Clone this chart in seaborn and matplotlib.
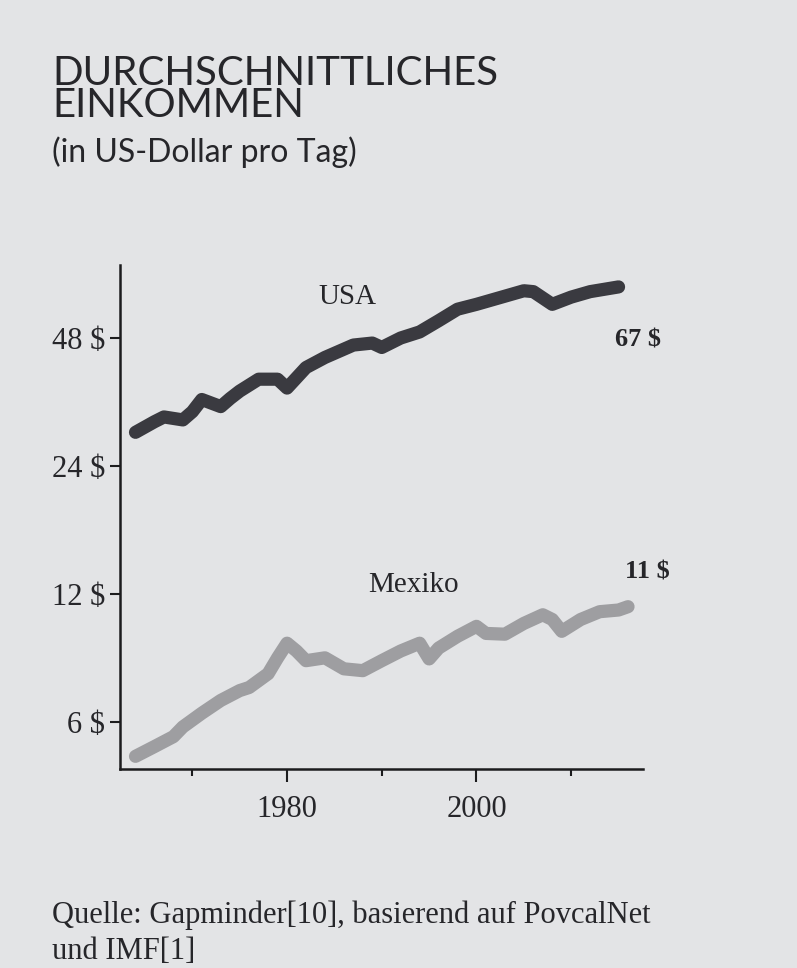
import numpy as np
import pandas as pd
import matplotlib
matplotlib.use("Agg")
import matplotlib.pyplot as plt
import seaborn as sns
from matplotlib.ticker import FixedLocator, NullLocator

# ---- data ----
usa_years = [1964, 1966, 1967, 1969, 1970, 1971, 1973, 1974, 1975, 1977, 1979, 1980,
             1982, 1984, 1987, 1989, 1990, 1992, 1994, 1996, 1998, 2000, 2003, 2005,
             2006, 2008, 2010, 2012, 2015]
usa_income = [28.8, 30.5, 31.3, 30.8, 32.2, 34.4, 33.1, 34.6, 36.0, 38.4, 38.4, 36.6,
              40.9, 43.2, 46.2, 46.7, 45.6, 48.0, 49.6, 52.7, 56.1, 57.6, 60.2, 62.0,
              61.7, 57.6, 59.9, 61.7, 63.3]

mex_years = [1964, 1966, 1968, 1969, 1971, 1973, 1975, 1976, 1978, 1979, 1980, 1981,
             1982, 1984, 1986, 1988, 1990, 1992, 1994, 1995, 1996, 1998, 2000, 2001,
             2003, 2005, 2007, 2008, 2009, 2011, 2013, 2015, 2016]
mex_income = [4.98, 5.25, 5.54, 5.84, 6.29, 6.74, 7.11, 7.23, 7.79, 8.49, 9.19, 8.81,
              8.36, 8.49, 8.00, 7.92, 8.36, 8.81, 9.19, 8.44, 8.95, 9.54, 10.07, 9.69,
              9.65, 10.23, 10.72, 10.45, 9.80, 10.45, 10.90, 11.00, 11.20]

countries = ["USA", "Mexiko"]
end_labels = ["67 $", "11 $"]
y_ticks = [6, 12, 24, 48]
y_tick_labels = ["6 $", "12 $", "24 $", "48 $"]
x_major = [1980, 2000]
x_major_labels = ["1980", "2000"]
x_minor = [1970, 1990, 2010]

title_lines = ["DURCHSCHNITTLICHES", "EINKOMMEN"]
subtitle = "(in US-Dollar pro Tag)"
source_lines = ["Quelle: Gapminder[10], basierend auf PovcalNet", "und IMF[1]"]

# ---- styling ----
sns.set_theme(style="ticks")
plt.rcParams["font.family"] = ["Liberation Serif", "DejaVu Serif"]

bg = "#e3e4e6"
ink = "#26262a"
colors = {"USA": "#3a3a40", "Mexiko": "#9e9ea1"}
widths = {"USA": 9.5, "Mexiko": 9.5}

fig = plt.figure(figsize=(7.97, 9.68), dpi=100)
fig.patch.set_facecolor(bg)
ax = fig.add_axes([0.151, 0.2056, 0.656, 0.5207])
ax.set_facecolor(bg)

df = pd.concat([
    pd.DataFrame({"Jahr": usa_years, "Einkommen": usa_income, "Land": countries[0]}),
    pd.DataFrame({"Jahr": mex_years, "Einkommen": mex_income, "Land": countries[1]}),
], ignore_index=True)

sns.lineplot(data=df, x="Jahr", y="Einkommen", hue="Land", hue_order=countries,
             palette=colors, legend=False, ax=ax)
for line, c in zip(ax.lines, countries):
    line.set_linewidth(widths[c])
    line.set_solid_capstyle("round")
    line.set_solid_joinstyle("round")

ax.set_yscale("log")
ax.set_ylim(4.65, 71.3)
ax.set_xlim(1962.4, 2017.6)

for s in ["top", "right"]:
    ax.spines[s].set_visible(False)
for s in ["left", "bottom"]:
    ax.spines[s].set_linewidth(1.8)
    ax.spines[s].set_color("#1c1c1e")

ax.yaxis.set_major_locator(FixedLocator(y_ticks))
ax.set_yticklabels(y_tick_labels)
ax.yaxis.set_minor_locator(NullLocator())
ax.set_xticks(x_major)
ax.set_xticklabels(x_major_labels)
ax.set_xticks(x_minor, minor=True)

ax.tick_params(axis="y", which="major", length=7, width=1.5, pad=4,
               labelsize=22, color="#1c1c1e", labelcolor=ink, direction="out")
ax.tick_params(axis="x", which="major", length=9, width=1.5, pad=10,
               labelsize=22, color="#1c1c1e", labelcolor=ink, direction="out")
ax.tick_params(axis="x", which="minor", length=5, width=1.5, color="#1c1c1e",
               direction="out")
ax.set_xlabel("")
ax.set_ylabel("")

# series labels
ax.text(1986.4, 59.9, countries[0], ha="center", va="center", fontsize=21, color=ink)
ax.text(1993.3, 12.6, countries[1], ha="center", va="center", fontsize=21, color=ink)
ax.text(2014.6, 47.5, end_labels[0], ha="left", va="center", fontsize=19,
        color=ink, fontweight="bold")
ax.text(2015.7, 13.5, end_labels[1], ha="left", va="center", fontsize=19,
        color=ink, fontweight="bold")

# titles
tfam = ["Lato", "DejaVu Sans"]
fig.text(0.0652, 1 - 117 / 968, title_lines[0] + "\n" + title_lines[1], family=tfam,
         fontsize=29, color=ink, va="baseline", ha="left", linespacing=0.84)
fig.text(0.0652, 1 - 162 / 968, subtitle, family=tfam, fontsize=23, color=ink,
         va="baseline", ha="left")

# source
fig.text(0.0652, 1 - 923 / 968, source_lines[0], fontsize=22, color=ink,
         va="baseline", ha="left")
fig.text(0.0652, 1 - 959 / 968, source_lines[1], fontsize=22, color=ink,
         va="baseline", ha="left")

fig.savefig("out.png", dpi=100, facecolor=bg)
